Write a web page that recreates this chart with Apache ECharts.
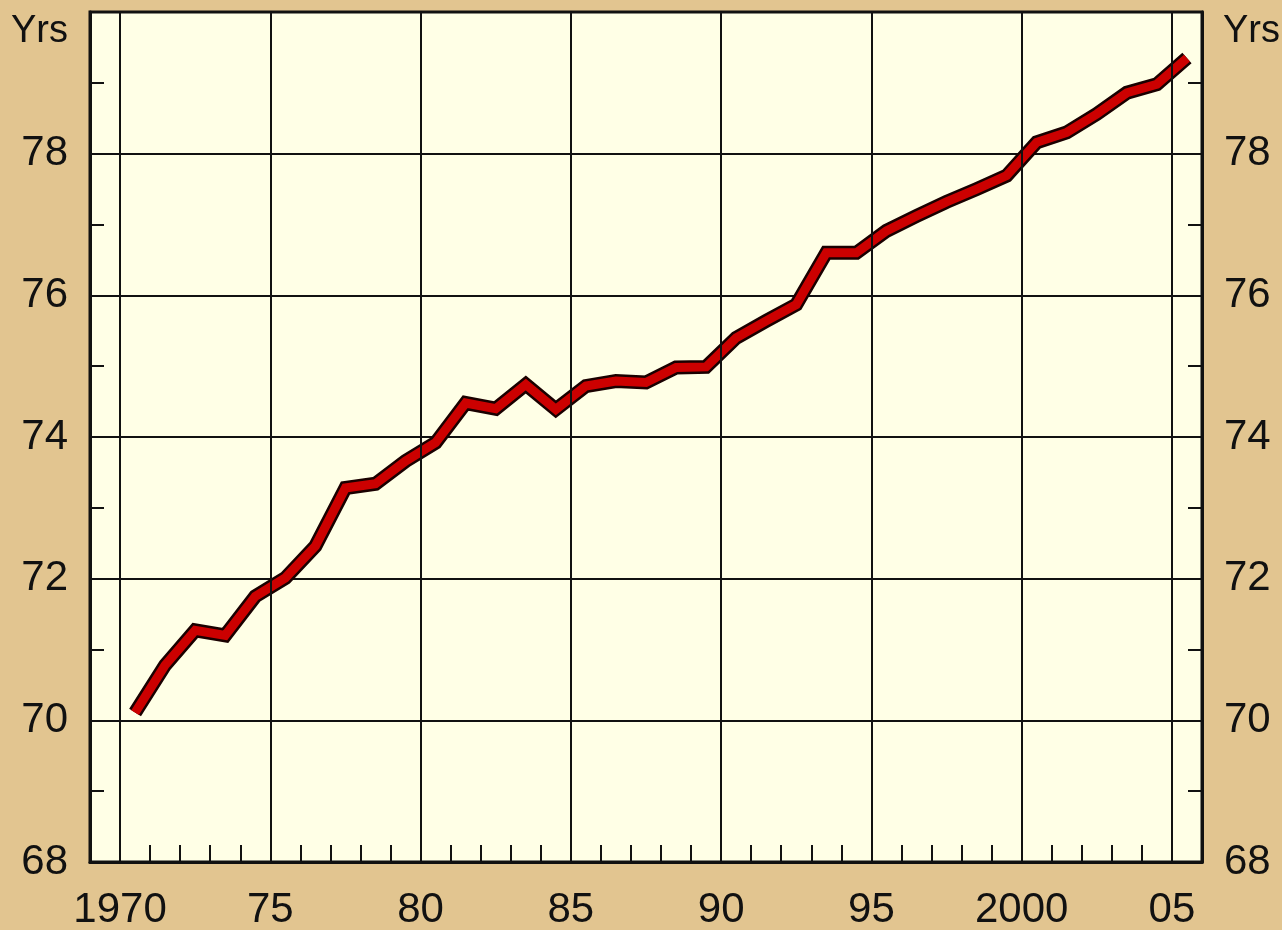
<!DOCTYPE html>
<html>
<head>
<meta charset="utf-8">
<title>Yrs</title>
<script src="https://cdn.jsdelivr.net/npm/echarts@6/dist/echarts.min.js"></script>
<style>
	html, body { margin: 0; padding: 0; background: #E2C590; }
	#lifeChart { width: 1282px; height: 930px; }
</style>
</head>
<body>
<div id="lifeChart"></div>
<script>
// data
var years = [1970, 1971, 1972, 1973, 1974, 1975, 1976, 1977, 1978, 1979,
	1980, 1981, 1982, 1983, 1984, 1985, 1986, 1987, 1988, 1989,
	1990, 1991, 1992, 1993, 1994, 1995, 1996, 1997, 1998, 1999,
	2000, 2001, 2002, 2003, 2004, 2005];
var lifeYrs = [70.11, 70.78, 71.27, 71.20, 71.75, 72.01, 72.46, 73.28, 73.34, 73.66,
	73.92, 74.48, 74.40, 74.74, 74.39, 74.72, 74.79, 74.77, 74.98, 74.99,
	75.40, 75.64, 75.87, 76.60, 76.60, 76.91, 77.12, 77.32, 77.50, 77.69,
	78.16, 78.30, 78.56, 78.86, 78.98, 79.35];
var gridYears = [1970, 1975, 1980, 1985, 1990, 1995, 2000, 2005];
var yearLabels = {1970: '1970', 1975: '75', 1980: '80', 1985: '85', 1990: '90', 1995: '95', 2000: '2000', 2005: '05'};
var yTicks = [68, 70, 72, 74, 76, 78, 80];

var font = 'Liberation Sans';
var ink = '#111';

// points sit at mid-year
var points = [];
for (var i = 0; i < years.length; i++) {
	points.push([years[i] + 0.5, lifeYrs[i]]);
}

function yAxisOf(side) {
	return {
		type: 'value',
		position: side,
		min: yTicks[0],
		max: yTicks[yTicks.length - 1],
		interval: 2,
		name: 'Yrs',
		nameLocation: 'end',
		nameGap: -20,
		nameTextStyle: {
			fontFamily: font, fontSize: 38, color: ink,
			align: side == 'left' ? 'right' : 'left',
			verticalAlign: 'middle',
			padding: side == 'left' ? [0, 22, 0, 0] : [0, 0, 0, 21]
		},
		axisLine: {show: true, lineStyle: {color: ink, width: 3}},
		axisTick: {show: true, inside: true, length: 20, lineStyle: {color: ink, width: 2}},
		minorTick: {show: true, splitNumber: 2, length: 14, lineStyle: {color: ink, width: 2}},
		axisLabel: {
			fontFamily: font, fontSize: 42, color: ink, margin: 22,
			formatter: function (v) { return v == 80 ? '' : String(v); }
		},
		splitLine: {show: side == 'left', lineStyle: {color: ink, width: 2}}
	};
}

var lifeChart = echarts.init(document.getElementById('lifeChart'));
lifeChart.setOption({
	animation: false,
	backgroundColor: '#E2C590',
	grid: {
		left: 90, right: 80, top: 12, bottom: 68,
		outerBoundsMode: 'none',
		containLabel: false,
		show: true,
		backgroundColor: '#FFFFE6',
		borderColor: ink,
		borderWidth: 3
	},
	xAxis: {
		type: 'value',
		min: 1969,
		max: 2006,
		interval: 1,
		axisLine: {show: true, lineStyle: {color: ink, width: 3}},
		axisTick: {show: true, inside: true, length: 17, lineStyle: {color: ink, width: 2}},
		axisLabel: {
			fontFamily: font, fontSize: 42, color: ink, margin: 27,
			formatter: function (v) { return yearLabels[v] || ''; }
		},
		splitLine: {show: false}
	},
	yAxis: [yAxisOf('left'), yAxisOf('right')],
	series: [
		{
			// vertical grid every 5 years
			type: 'line',
			z: 1,
			data: [],
			markLine: {
				silent: true,
				symbol: 'none',
				label: {show: false},
				lineStyle: {color: ink, width: 2, type: 'solid'},
				data: gridYears.map(function (y) { return {xAxis: y}; })
			}
		},
		{
			// black edge
			type: 'line',
			z: 2,
			data: points,
			showSymbol: false,
			lineStyle: {color: '#1a0000', width: 14, join: 'miter', cap: 'butt'}
		},
		{
			type: 'line',
			z: 3,
			data: points,
			showSymbol: false,
			lineStyle: {color: '#CC0000', width: 9, join: 'miter', cap: 'butt'}
		}
	]
});
</script>
</body>
</html>
